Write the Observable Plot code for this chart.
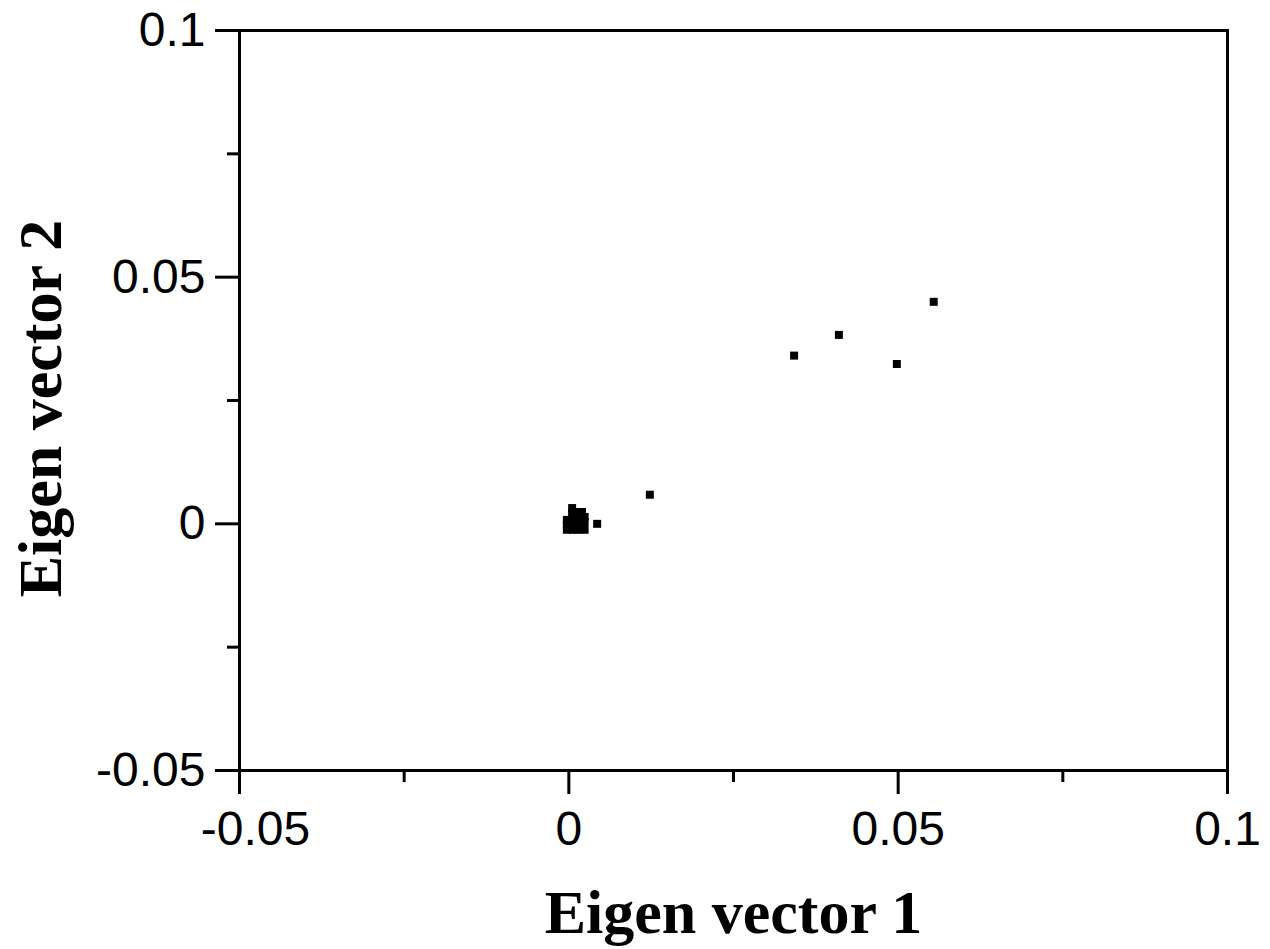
<!DOCTYPE html>
<html>
<head>
<meta charset="utf-8">
<script src="https://cdn.jsdelivr.net/npm/d3@7"></script>
<script src="https://cdn.jsdelivr.net/npm/@observablehq/plot@0.6"></script>
<style>
  html, body { margin: 0; padding: 0; background: #ffffff; }
</style>
</head>
<body>
<div id="chart"></div>
<script>
// Eigen vector coordinates of the points (dense cluster near the origin, then outliers)
const ev1 = [-0.0003, -0.0003, -0.0003, 0.0005, 0.0005, 0.0006, 0.0004, 0.0005, 0.0006,
             0.0012, 0.0013, 0.0011, 0.0012, 0.0013, 0.0020, 0.0019, 0.0021, 0.0020, 0.0019,
             0.0024, 0.0024, 0.0023, 0.0024,
             0.0043, 0.0123, 0.0342, 0.0410, 0.0498, 0.0554];
const ev2 = [0.0008, -0.0002, -0.0012, 0.0032, 0.0022, 0.0014, 0.0008, -0.0002, -0.0012,
             0.0024, 0.0014, 0.0007, -0.0003, -0.0012, 0.0024, 0.0015, 0.0008, -0.0002, -0.0011,
             0.0014, 0.0004, -0.0006, -0.0012,
             0.0000, 0.0059, 0.0341, 0.0383, 0.0324, 0.0450];

const xMajorTicks = [-0.05, 0, 0.05, 0.1];
const xTickLabels = ["-0.05", "0", "0.05", "0.1"];
const xMinorTicks = [-0.025, 0.025, 0.075];
const yMajorTicks = [-0.05, 0, 0.05, 0.1];
const yTickLabels = ["-0.05", "0", "0.05", "0.1"];
const yMinorTicks = [-0.025, 0.025, 0.075];
const xTitle = "Eigen vector 1";
const yTitle = "Eigen vector 2";

const points = ev1.map((v, i) => ({ev1: v, ev2: ev2[i]}));
const xLab = d => xTickLabels[xMajorTicks.indexOf(d)];
const yLab = d => yTickLabels[yMajorTicks.indexOf(d)];
const tickFont = "'Liberation Sans', Arial, sans-serif";
const titleFont = "'Liberation Serif', 'Times New Roman', serif";

const chart = Plot.plot({
  width: 1270,
  height: 949,
  marginLeft: 239,
  marginRight: 43,
  marginTop: 30,
  marginBottom: 179,
  x: {domain: [-0.05, 0.1]},
  y: {domain: [-0.05, 0.1]},
  style: {background: "#ffffff", color: "black", fontFamily: tickFont},
  marks: [
    Plot.frame({stroke: "black", strokeWidth: 3}),
    // tick lines
    Plot.axisX({ticks: xMajorTicks, tickSize: 24, strokeWidth: 3, tickFormat: () => "", label: null}),
    Plot.axisX({ticks: xMinorTicks, tickSize: 12, strokeWidth: 3, tickFormat: () => "", label: null}),
    Plot.axisY({ticks: yMajorTicks, tickSize: 24, strokeWidth: 3, tickFormat: () => "", label: null}),
    Plot.axisY({ticks: yMinorTicks, tickSize: 12, strokeWidth: 3, tickFormat: () => "", label: null}),
    // tick labels
    Plot.axisX({ticks: xMajorTicks.filter(d => d >= 0), tickSize: 0, tickPadding: 40, fontSize: 48, fill: "black", tickFormat: xLab, label: null}),
    Plot.axisX({ticks: xMajorTicks.filter(d => d < 0), tickSize: 0, tickPadding: 40, fontSize: 48, fill: "black", tickFormat: xLab, label: null, dx: 16}),
    Plot.axisY({ticks: yMajorTicks, tickSize: 0, tickPadding: 34, fontSize: 48, fill: "black", tickFormat: yLab, label: null}),
    // points
    Plot.dot(points, {x: "ev1", y: "ev2", symbol: "square", r: 4.5, fill: "black", stroke: "none"}),
    // axis titles
    Plot.text([xTitle], {text: d => d, frameAnchor: "bottom", lineAnchor: "bottom", dy: 162, fontSize: 62, fontWeight: "bold", fontFamily: titleFont, fill: "black"}),
    Plot.text([yTitle], {text: d => d, frameAnchor: "left", textAnchor: "middle", rotate: -90, dx: -198, dy: 8, fontSize: 62, fontWeight: "bold", fontFamily: titleFont, fill: "black"})
  ]
});
document.getElementById("chart").appendChild(chart);
</script>
</body>
</html>
